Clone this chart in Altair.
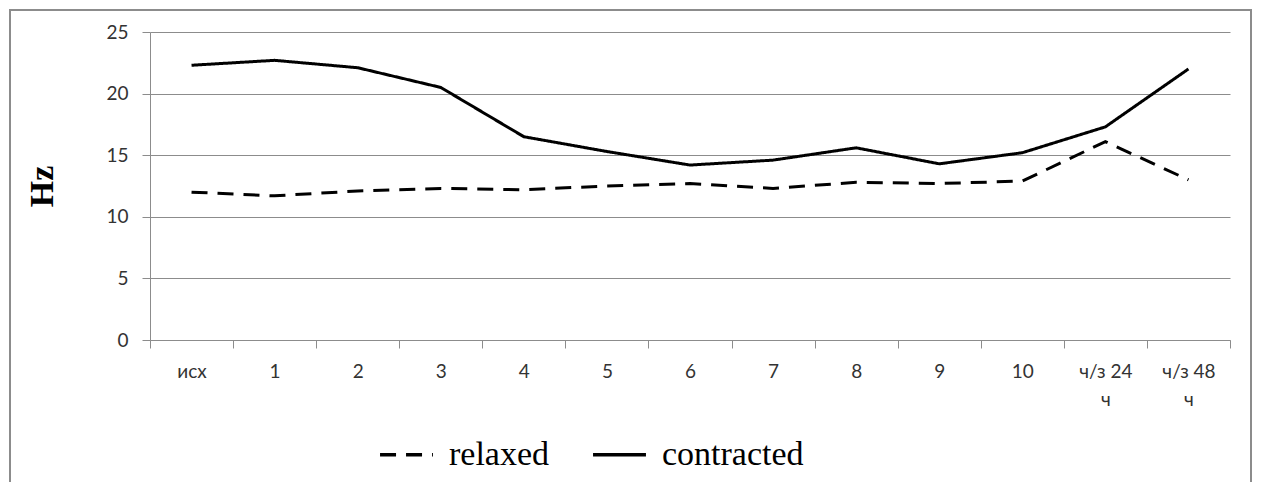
import altair as alt
import pandas as pd

categories = ["исх", "1", "2", "3", "4", "5", "6", "7", "8", "9", "10", "ч/з 24 ч", "ч/з 48 ч"]
relaxed = [12.0, 11.7, 12.1, 12.3, 12.2, 12.5, 12.7, 12.3, 12.8, 12.7, 12.9, 16.1, 13.0]
contracted = [22.3, 22.7, 22.1, 20.5, 16.5, 15.3, 14.2, 14.6, 15.6, 14.3, 15.2, 17.3, 22.0]
series_names = ["relaxed", "contracted"]

rows = []
for name, vals in zip(series_names, [relaxed, contracted]):
    for c, v in zip(categories, vals):
        rows.append({"cat": c, "value": v, "series": name})
df = pd.DataFrame(rows)

grey = "#8c8c8c"
label_font = "Lato"

frame = alt.Chart(pd.DataFrame({"a": [0]})).mark_rect(
    fill="transparent", stroke=grey, strokeWidth=2
).encode(
    x=alt.value(-140), x2=alt.value(1101),
    y=alt.value(-22), y2=alt.value(480),
)

lines = alt.Chart(df).mark_line(strokeWidth=3, color="black").encode(
    x=alt.X(
        "cat:N",
        sort=categories,
        scale=alt.Scale(paddingInner=0, paddingOuter=0),
        axis=alt.Axis(
            title=None,
            tickBand="extent",
            labelAngle=0,
            labelFont=label_font,
            labelFontSize=19,
            labelColor="#333333",
            labelPadding=14,
            tickSize=8,
            tickColor=grey,
            domainColor=grey,
            grid=False,
            labelExpr="indexof(datum.label, 'ч/з') == 0 ? [substring(datum.label, 0, 6), substring(datum.label, 7)] : datum.label",
            labelLineHeight=28,
        ),
    ),
    y=alt.Y(
        "value:Q",
        scale=alt.Scale(domain=[0, 25], nice=False),
        axis=alt.Axis(
            title="Hz",
            titleFont="Liberation Serif",
            titleFontWeight="bold",
            titleFontSize=34,
            titleColor="black",
            titlePadding=46,
            values=[0, 5, 10, 15, 20, 25],
            labelFont=label_font,
            labelFontSize=19,
            labelColor="#333333",
            labelPadding=14,
            tickSize=8,
            tickColor=grey,
            domainColor=grey,
            gridColor=grey,
            gridWidth=1,
        ),
    ),
    strokeDash=alt.StrokeDash(
        "series:N",
        scale=alt.Scale(domain=series_names, range=[[16, 10], [1, 0]]),
        legend=alt.Legend(
            title=None,
            orient="none",
            legendX=228,
            legendY=394,
            direction="horizontal",
            symbolType="stroke",
            symbolStrokeColor="black",
            symbolStrokeWidth=3.5,
            symbolSize=2800,
            labelFont="Liberation Serif",
            labelFontSize=34,
            labelColor="black",
            labelOffset=14,
            columnPadding=36,
            labelLimit=400,
        ),
    ),
    detail="series:N",
)

chart = alt.layer(frame, lines).properties(
    width=1080,
    height=308,
    autosize=alt.AutoSizeParams(type="none"),
    padding={"left": 142, "top": 24, "right": 22, "bottom": 142},
).configure_view(stroke=None)

chart.save("out.html", embed_options={"renderer": "svg", "actions": False})
